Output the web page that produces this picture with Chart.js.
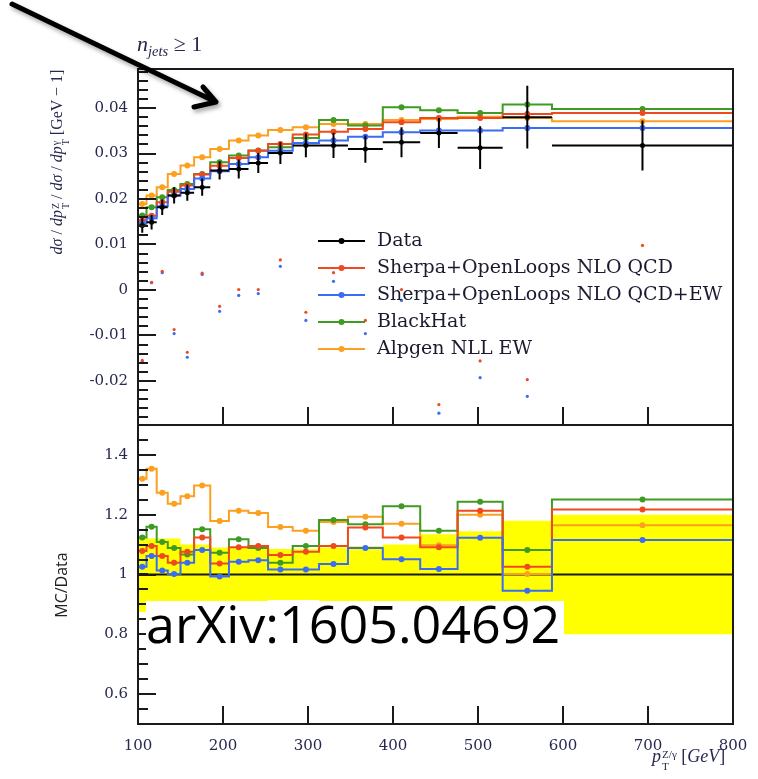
<!DOCTYPE html>
<html>
<head>
<meta charset="utf-8">
<script src="https://cdn.jsdelivr.net/npm/chart.js@4.4.1/dist/chart.umd.min.js"></script>
<style>
  html, body { margin: 0; padding: 0; background: #fff; }
  #wrap { position: relative; width: 758px; height: 779px; overflow: hidden; }
  canvas { position: absolute; left: 0; top: 0; }
  .lbl { position: absolute; white-space: nowrap; color: #26284f; font-family: 'Liberation Serif', serif; line-height: 1; }
  .rot { transform: translate(-50%, -50%) rotate(-90deg); }
  .ss { display: inline-flex; flex-direction: column; font-size: 0.62em; line-height: 1; vertical-align: 0.32em; margin-left: 1px; }
  .sub { font-size: 0.66em; vertical-align: -0.35em; }
  #arxiv { position: absolute; left: 146px; top: 601px; padding-bottom: 9px; padding-right: 4px;
           font-family: 'Open Sans', sans-serif; font-size: 52px; line-height: 43px; color: #000; background: #fff; white-space: nowrap; }
</style>
</head>
<body>
<div id="wrap">
  <canvas id="main" width="758" height="779"></canvas>
  <canvas id="ratio" width="758" height="779"></canvas>

  <div class="lbl" style="left:137px; top:33px; font-size:22px;"><i>n</i><span class="sub"><i>jets</i></span> ≥ 1</div>
  <div class="lbl rot" style="left:60px; top:162px; font-size:16px;"><i>dσ</i> / <i>dp</i><span class="ss"><span>Z</span><span>T</span></span> / <i>dσ</i> / <i>dp</i><span class="ss"><span>γ</span><span>T</span></span> [GeV − 1]</div>
  <div class="lbl rot" style="left:61px; top:585px; font-size:16px; font-family:'Open Sans', sans-serif; color:#222;">MC/Data</div>
  <div class="lbl" style="left:652px; top:747px; font-size:18px;"><i>p</i><span class="ss"><span>Z/γ</span><span>T</span></span> [<i>GeV</i>]</div>
  <div id="arxiv">arXiv:1605.04692</div>
</div>

<script>
// p_T bins (GeV)
const binEdges = [100, 110, 122, 135, 150, 166, 185, 207, 230, 253, 282, 313, 347, 388, 432, 476, 529, 587, 800];
const binCenters = [105, 116, 128.5, 142.5, 158, 175.5, 196, 218.5, 241.5, 267.5, 297.5, 330, 367.5, 410, 454, 502.5, 558, 693.5];

// measured Z/gamma ratio and its uncertainty
const dataVals = [0.0142, 0.0149, 0.0182, 0.0208, 0.0214, 0.0226, 0.0263, 0.0266, 0.0279, 0.0301, 0.0318, 0.0318, 0.0310, 0.0325, 0.0345, 0.0313, 0.0380, 0.0318];
const dataErrs = [0.0016, 0.0016, 0.0017, 0.0018, 0.0018, 0.0019, 0.0020, 0.0021, 0.0022, 0.0024, 0.0026, 0.0028, 0.0030, 0.0033, 0.0033, 0.0047, 0.0069, 0.0055];

// predictions
const sherpaQcd = [0.0153, 0.0163, 0.0193, 0.0216, 0.0230, 0.0254, 0.0273, 0.0290, 0.0306, 0.0321, 0.0342, 0.0348, 0.0354, 0.0369, 0.0378, 0.0378, 0.0387, 0.0389];
const sherpaEw  = [0.0146, 0.0158, 0.0184, 0.0208, 0.0222, 0.0245, 0.0261, 0.0277, 0.0292, 0.0306, 0.0323, 0.0329, 0.0337, 0.0347, 0.0351, 0.0351, 0.0356, 0.0356];
const blackHat  = [0.0164, 0.0182, 0.0204, 0.0220, 0.0233, 0.0255, 0.0281, 0.0296, 0.0307, 0.0314, 0.0334, 0.0374, 0.0362, 0.0402, 0.0395, 0.0389, 0.0408, 0.0398];
const alpgen    = [0.0189, 0.0208, 0.0226, 0.0255, 0.0274, 0.0292, 0.0310, 0.0329, 0.0340, 0.0352, 0.0358, 0.0365, 0.0365, 0.0374, 0.0376, 0.0381, 0.0378, 0.0371];

// loose QCD / QCD+EW points sitting in the upper panel
const qcdDots = [-0.0155, 0.0017, 0.0041, -0.0087, -0.0137, 0.0037, -0.0036, 0.0001, 0.0001, 0.0066, -0.0049, 0.0038, -0.0067, 0.0001, -0.0252, -0.0156, -0.0197, 0.0098];
const ewDots  = [-0.0158, 0.0016, 0.0038, -0.0096, -0.0148, 0.0034, -0.0047, -0.0012, -0.0008, 0.0052, -0.0067, 0.0019, -0.0096, -0.0023, -0.0271, -0.0193, -0.0234, null];

// MC / Data
const ratioQcd = [1.079, 1.095, 1.062, 1.039, 1.076, 1.124, 1.037, 1.091, 1.095, 1.065, 1.076, 1.095, 1.157, 1.124, 1.091, 1.213, 1.026, 1.217];
const ratioEw  = [1.026, 1.062, 1.013, 1.002, 1.039, 1.082, 0.993, 1.043, 1.048, 1.017, 1.017, 1.035, 1.089, 1.051, 1.018, 1.123, 0.946, 1.115];
const ratioBh  = [1.124, 1.160, 1.109, 1.089, 1.067, 1.151, 1.073, 1.118, 1.089, 1.039, 1.095, 1.182, 1.168, 1.228, 1.146, 1.243, 1.082, 1.251];
const ratioAlp = [1.320, 1.354, 1.273, 1.237, 1.262, 1.298, 1.179, 1.213, 1.206, 1.159, 1.146, 1.176, 1.193, 1.170, 1.098, 1.200, 1.002, 1.165];
const bandLow  = [0.875, 0.880, 0.880, 0.885, 0.900, 0.900, 0.910, 0.910, 0.910, 0.915, 0.915, 0.910, 0.905, 0.900, 0.865, 0.855, 0.815, 0.800];
const bandHigh = [1.120, 1.120, 1.120, 1.120, 1.100, 1.100, 1.090, 1.090, 1.090, 1.085, 1.085, 1.090, 1.095, 1.100, 1.135, 1.145, 1.180, 1.200];

// axes
const xTicks = [100, 200, 300, 400, 500, 600, 700, 800];
const topYTicks = [-0.02, -0.01, 0, 0.01, 0.02, 0.03, 0.04];
const ratioYTicks = [0.6, 0.8, 1, 1.2, 1.4];

const seriesNames = ['Data', 'Sherpa+OpenLoops NLO QCD', 'Sherpa+OpenLoops NLO QCD+EW', 'BlackHat', 'Alpgen NLL EW'];
const seriesColors = ['#000000', '#ef4a1f', '#3a6cf4', '#3f9b22', '#fca01f'];
const tickColor = '#26284f';
const tickFont = { family: 'DejaVu Serif', size: 15 };

function stepPoints(vals) {
  const pts = vals.map((v, i) => ({ x: binEdges[i], y: v }));
  pts.push({ x: binEdges[vals.length], y: vals[vals.length - 1] });
  return pts;
}
function centerPoints(vals) {
  return vals.map((v, i) => ({ x: binCenters[i], y: v }));
}
function mcSets(vals, color) {
  return [
    { data: stepPoints(vals), borderColor: color, borderWidth: 2, stepped: true, pointRadius: 0, fill: false },
    { data: centerPoints(vals), showLine: false, pointRadius: 3, pointBackgroundColor: color, pointBorderWidth: 0 }
  ];
}
function dotSet(vals, color) {
  return { data: centerPoints(vals).filter(p => p.y !== null), showLine: false, pointRadius: 1.6,
           pointBackgroundColor: color, pointBorderWidth: 0 };
}

// frame + inward ticks on a panel (major y ticks, minor y steps, x majors)
function frameTicks(yMajor, minorStart, minorStep) {
  return {
    id: 'frameTicks',
    afterDraw(chart) {
      const { ctx, chartArea: a, scales } = chart;
      const ys = scales.y, xs = scales.x;
      ctx.save();
      ctx.fillStyle = '#1a1a1a';
      for (let v = minorStart; v <= ys.max + 1e-9; v += minorStep) {
        const y = Math.round(ys.getPixelForValue(v));
        ctx.fillRect(a.left, y - 1, 10, 2);
      }
      for (const v of yMajor) {
        const y = Math.round(ys.getPixelForValue(v));
        ctx.fillRect(a.left, y - 1, 18, 2);
      }
      for (const v of xTicks) {
        const x = Math.round(xs.getPixelForValue(v));
        ctx.fillRect(x - 1, a.bottom - 18, 2, 18);
      }
      ctx.fillRect(a.left - 1, a.top - 1, a.right - a.left + 2, 2);
      ctx.fillRect(a.left - 1, a.bottom - 1, a.right - a.left + 2, 2);
      ctx.fillRect(a.left - 1, a.top - 1, 2, a.bottom - a.top + 2);
      ctx.fillRect(a.right - 1, a.top - 1, 2, a.bottom - a.top + 2);
      ctx.restore();
    }
  };
}

// data crosses: bin width horizontally, uncertainty vertically
const dataBars = {
  id: 'dataBars',
  afterDatasetsDraw(chart) {
    const { ctx, scales: { x, y } } = chart;
    ctx.save();
    ctx.strokeStyle = '#000';
    ctx.fillStyle = '#000';
    ctx.lineWidth = 2;
    dataVals.forEach((v, i) => {
      const xc = x.getPixelForValue(binCenters[i]);
      const yc = y.getPixelForValue(v);
      ctx.beginPath();
      ctx.moveTo(x.getPixelForValue(binEdges[i]), yc);
      ctx.lineTo(x.getPixelForValue(binEdges[i + 1]), yc);
      ctx.moveTo(xc, y.getPixelForValue(v - dataErrs[i]));
      ctx.lineTo(xc, y.getPixelForValue(v + dataErrs[i]));
      ctx.stroke();
      ctx.beginPath();
      ctx.arc(xc, yc, 2.5, 0, Math.PI * 2);
      ctx.fill();
    });
    ctx.restore();
  }
};

// legend inside the upper panel
const panelLegend = {
  id: 'panelLegend',
  afterDraw(chart) {
    const ctx = chart.ctx;
    ctx.save();
    ctx.font = '19px "DejaVu Serif"';
    ctx.textBaseline = 'middle';
    seriesNames.forEach((name, i) => {
      const y = 241 + i * 27;
      ctx.strokeStyle = seriesColors[i];
      ctx.fillStyle = seriesColors[i];
      ctx.lineWidth = 2;
      ctx.beginPath(); ctx.moveTo(318, y); ctx.lineTo(365, y); ctx.stroke();
      ctx.beginPath(); ctx.arc(341.5, y, 3, 0, Math.PI * 2); ctx.fill();
      ctx.fillStyle = '#1b1b30';
      ctx.fillText(name, 377, y);
    });
    ctx.restore();
  }
};

// hand-drawn pointer arrow at the top left
const pointerArrow = {
  id: 'pointerArrow',
  afterDraw(chart) {
    const ctx = chart.ctx;
    ctx.save();
    ctx.strokeStyle = '#000';
    ctx.lineWidth = 5;
    ctx.lineCap = 'round';
    ctx.lineJoin = 'round';
    ctx.shadowColor = 'rgba(0,0,0,0.35)';
    ctx.shadowBlur = 4;
    ctx.shadowOffsetX = 2;
    ctx.shadowOffsetY = 3;
    ctx.beginPath();
    ctx.moveTo(12, 4); ctx.lineTo(216, 102);
    ctx.moveTo(203, 87); ctx.lineTo(216, 102); ctx.lineTo(194, 107);
    ctx.stroke();
    ctx.restore();
  }
};

const common = {
  responsive: false,
  animation: false,
  events: [],
  plugins: { legend: { display: false }, tooltip: { enabled: false } }
};

new Chart(document.getElementById('main'), {
  type: 'line',
  data: {
    datasets: [
      ...mcSets(sherpaEw, seriesColors[2]),
      ...mcSets(sherpaQcd, seriesColors[1]),
      ...mcSets(blackHat, seriesColors[3]),
      ...mcSets(alpgen, seriesColors[4]),
      dotSet(qcdDots, seriesColors[1]),
      dotSet(ewDots, seriesColors[2])
    ]
  },
  options: {
    ...common,
    layout: { padding: { top: 69, right: 25, bottom: 354, left: 0 } },
    scales: {
      x: { type: 'linear', min: 100, max: 800, display: false },
      y: {
        min: -0.0297, max: 0.0486,
        afterFit: s => { s.width = 138; },
        afterBuildTicks: s => { s.ticks = topYTicks.map(v => ({ value: v })); },
        grid: { display: false, drawTicks: false },
        border: { display: false },
        ticks: { padding: 10, color: tickColor, font: tickFont, callback: v => (v === 0 ? '0' : v.toFixed(2)) }
      }
    }
  },
  plugins: [frameTicks(topYTicks, -0.028, 0.002), dataBars, panelLegend, pointerArrow]
});

new Chart(document.getElementById('ratio'), {
  type: 'line',
  data: {
    datasets: [
      ...mcSets(ratioEw, seriesColors[2]),
      ...mcSets(ratioQcd, seriesColors[1]),
      ...mcSets(ratioBh, seriesColors[3]),
      ...mcSets(ratioAlp, seriesColors[4]),
      { data: [{ x: 100, y: 1 }, { x: 800, y: 1 }], borderColor: '#1a1a1a', borderWidth: 2, pointRadius: 0, fill: false },
      { data: stepPoints(bandLow), borderWidth: 0, borderColor: 'rgba(0,0,0,0)', stepped: true, pointRadius: 0, fill: false },
      { data: stepPoints(bandHigh), borderWidth: 0, borderColor: 'rgba(0,0,0,0)', stepped: true, pointRadius: 0,
        fill: '-1', backgroundColor: '#ffff00' }
    ]
  },
  options: {
    ...common,
    layout: { padding: { top: 425, right: 25, bottom: 0, left: 0 } },
    scales: {
      x: {
        type: 'linear', min: 100, max: 800,
        afterFit: s => { s.height = 55; s.paddingLeft = 0; s.paddingRight = 0; },
        afterBuildTicks: s => { s.ticks = xTicks.map(v => ({ value: v })); },
        grid: { display: false, drawTicks: false },
        border: { display: false },
        ticks: { padding: 13, color: tickColor, font: tickFont, maxRotation: 0 }
      },
      y: {
        min: 0.5, max: 1.5,
        afterFit: s => { s.width = 138; },
        afterBuildTicks: s => { s.ticks = ratioYTicks.map(v => ({ value: v })); },
        grid: { display: false, drawTicks: false },
        border: { display: false },
        ticks: { padding: 10, color: tickColor, font: tickFont, callback: v => (v === 1 ? '1' : v.toFixed(1)) }
      }
    }
  },
  plugins: [frameTicks(ratioYTicks, 0.55, 0.05)]
});
</script>
</body>
</html>
